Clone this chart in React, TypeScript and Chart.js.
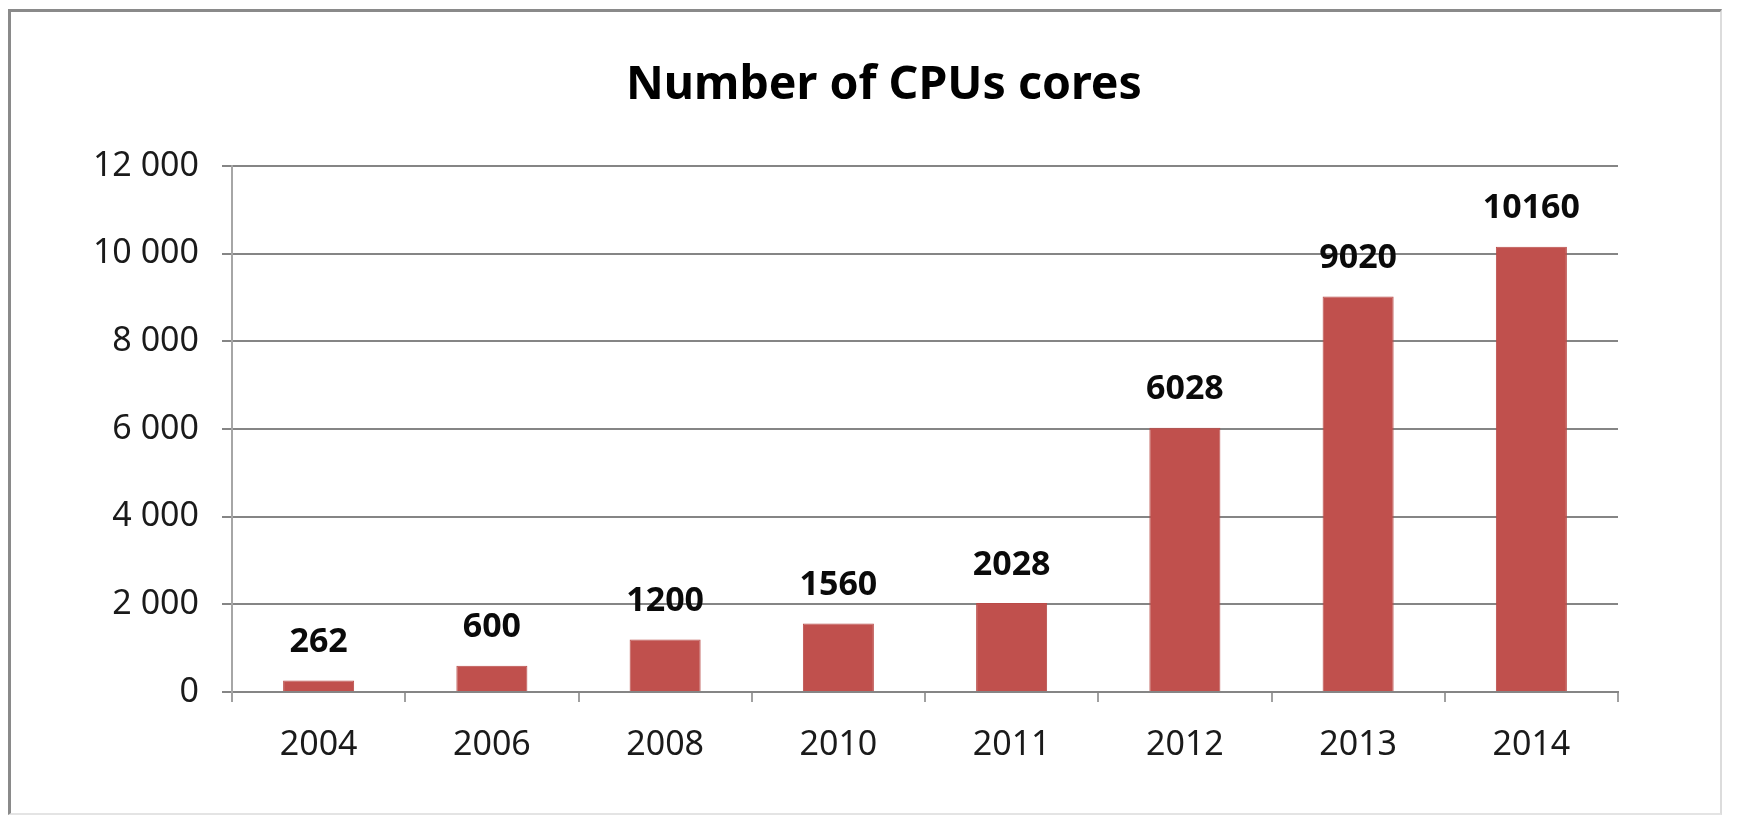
import React, { useEffect, useRef } from "react";
import { Chart, registerables } from "chart.js";

Chart.register(...registerables);

const categories: string[] = ["2004", "2006", "2008", "2010", "2011", "2012", "2013", "2014"];
const coreCounts: number[] = [262, 600, 1200, 1560, 2028, 6028, 9020, 10160];
const yTickValues: number[] = [0, 2000, 4000, 6000, 8000, 10000, 12000];
const chartTitle = "Number of CPUs cores";

const FONT = "'Noto Sans', 'DejaVu Sans', sans-serif";

const formatThousands = (v: number): string =>
  String(Math.round(v)).replace(/\B(?=(\d{3})+(?!\d))/g, " ");

const valueLabelPlugin = {
  id: "valueLabels",
  afterDatasetsDraw(chart: any) {
    const ctx = chart.ctx;
    const meta = chart.getDatasetMeta(0);
    const data = chart.data.datasets[0].data as number[];
    ctx.save();
    ctx.font = `bold 34px ${FONT}`;
    ctx.fillStyle = "#0a0a0a";
    ctx.textAlign = "center";
    ctx.textBaseline = "middle";
    meta.data.forEach((bar: any, i: number) => {
      ctx.fillText(String(data[i]), bar.x, bar.y - 38);
    });
    ctx.restore();
  },
};

// Title drawn centred over the chart box (which is offset from the plot area, as in the original)
const titlePlugin = {
  id: "offsetTitle",
  afterDraw(chart: any) {
    const ctx = chart.ctx;
    ctx.save();
    ctx.font = `bold 46.5px ${FONT}`;
    ctx.fillStyle = "#000000";
    ctx.textAlign = "center";
    ctx.textBaseline = "middle";
    ctx.fillText(chartTitle, 884, 86);
    ctx.restore();
  },
};

export default function App() {
  const canvasRef = useRef<HTMLCanvasElement | null>(null);

  useEffect(() => {
    if (!canvasRef.current) return;
    const chart = new Chart(canvasRef.current, {
      type: "bar",
      data: {
        labels: categories,
        datasets: [
          {
            data: coreCounts,
            backgroundColor: "#C0504D",
            borderColor: "#B94B48",
            borderWidth: 1,
            barPercentage: 0.41,
            categoryPercentage: 1,
          },
        ],
      },
      options: {
        animation: false,
        responsive: false,
        maintainAspectRatio: false,
        layout: { padding: { left: 0, right: 126, top: 166, bottom: 0 } },
        plugins: {
          legend: { display: false },
          tooltip: { enabled: false },
          title: { display: false },
        },
        scales: {
          x: {
            grid: {
              offset: true,
              drawOnChartArea: false,
              drawTicks: true,
              tickLength: 10,
              color: "#a0a0a0",
              lineWidth: 2,
            },
            border: { display: true, color: "#858585", width: 2 },
            ticks: {
              color: "#1a1a1a",
              font: { family: FONT, size: 34 },
              padding: 23,
              maxRotation: 0,
            },
            afterFit(scale: any) {
              scale.height = 126;
            },
          },
          y: {
            min: 0,
            max: 12000,
            afterBuildTicks(scale: any) {
              scale.ticks = yTickValues.map((v) => ({ value: v }));
            },
            grid: {
              color: "#858585",
              lineWidth: 2,
              drawTicks: true,
              tickLength: 10,
            },
            border: { display: true, color: "#a6a6a6", width: 2 },
            ticks: {
              color: "#1a1a1a",
              font: { family: FONT, size: 34 },
              padding: 23,
              callback: (v: any) => formatThousands(Number(v)),
            },
            afterFit(scale: any) {
              scale.width = 232;
            },
          },
        },
      },
      plugins: [valueLabelPlugin, titlePlugin],
    });
    return () => chart.destroy();
  }, []);

  return (
    <div style={{ position: "absolute", left: 0, top: 0, width: 1744, height: 818, background: "#ffffff" }}>
      <div
        style={{
          position: "absolute",
          left: 8,
          top: 9,
          width: 1714,
          height: 806,
          boxSizing: "border-box",
          borderLeft: "3px solid #8a8a8a",
          borderTop: "3px solid #8a8a8a",
          borderRight: "2px solid #dcdcdc",
          borderBottom: "2px solid #e4e4e4",
        }}
      />
      <canvas
        ref={canvasRef}
        width={1744}
        height={818}
        style={{ position: "absolute", left: 0, top: 0, width: 1744, height: 818 }}
      />
    </div>
  );
}
